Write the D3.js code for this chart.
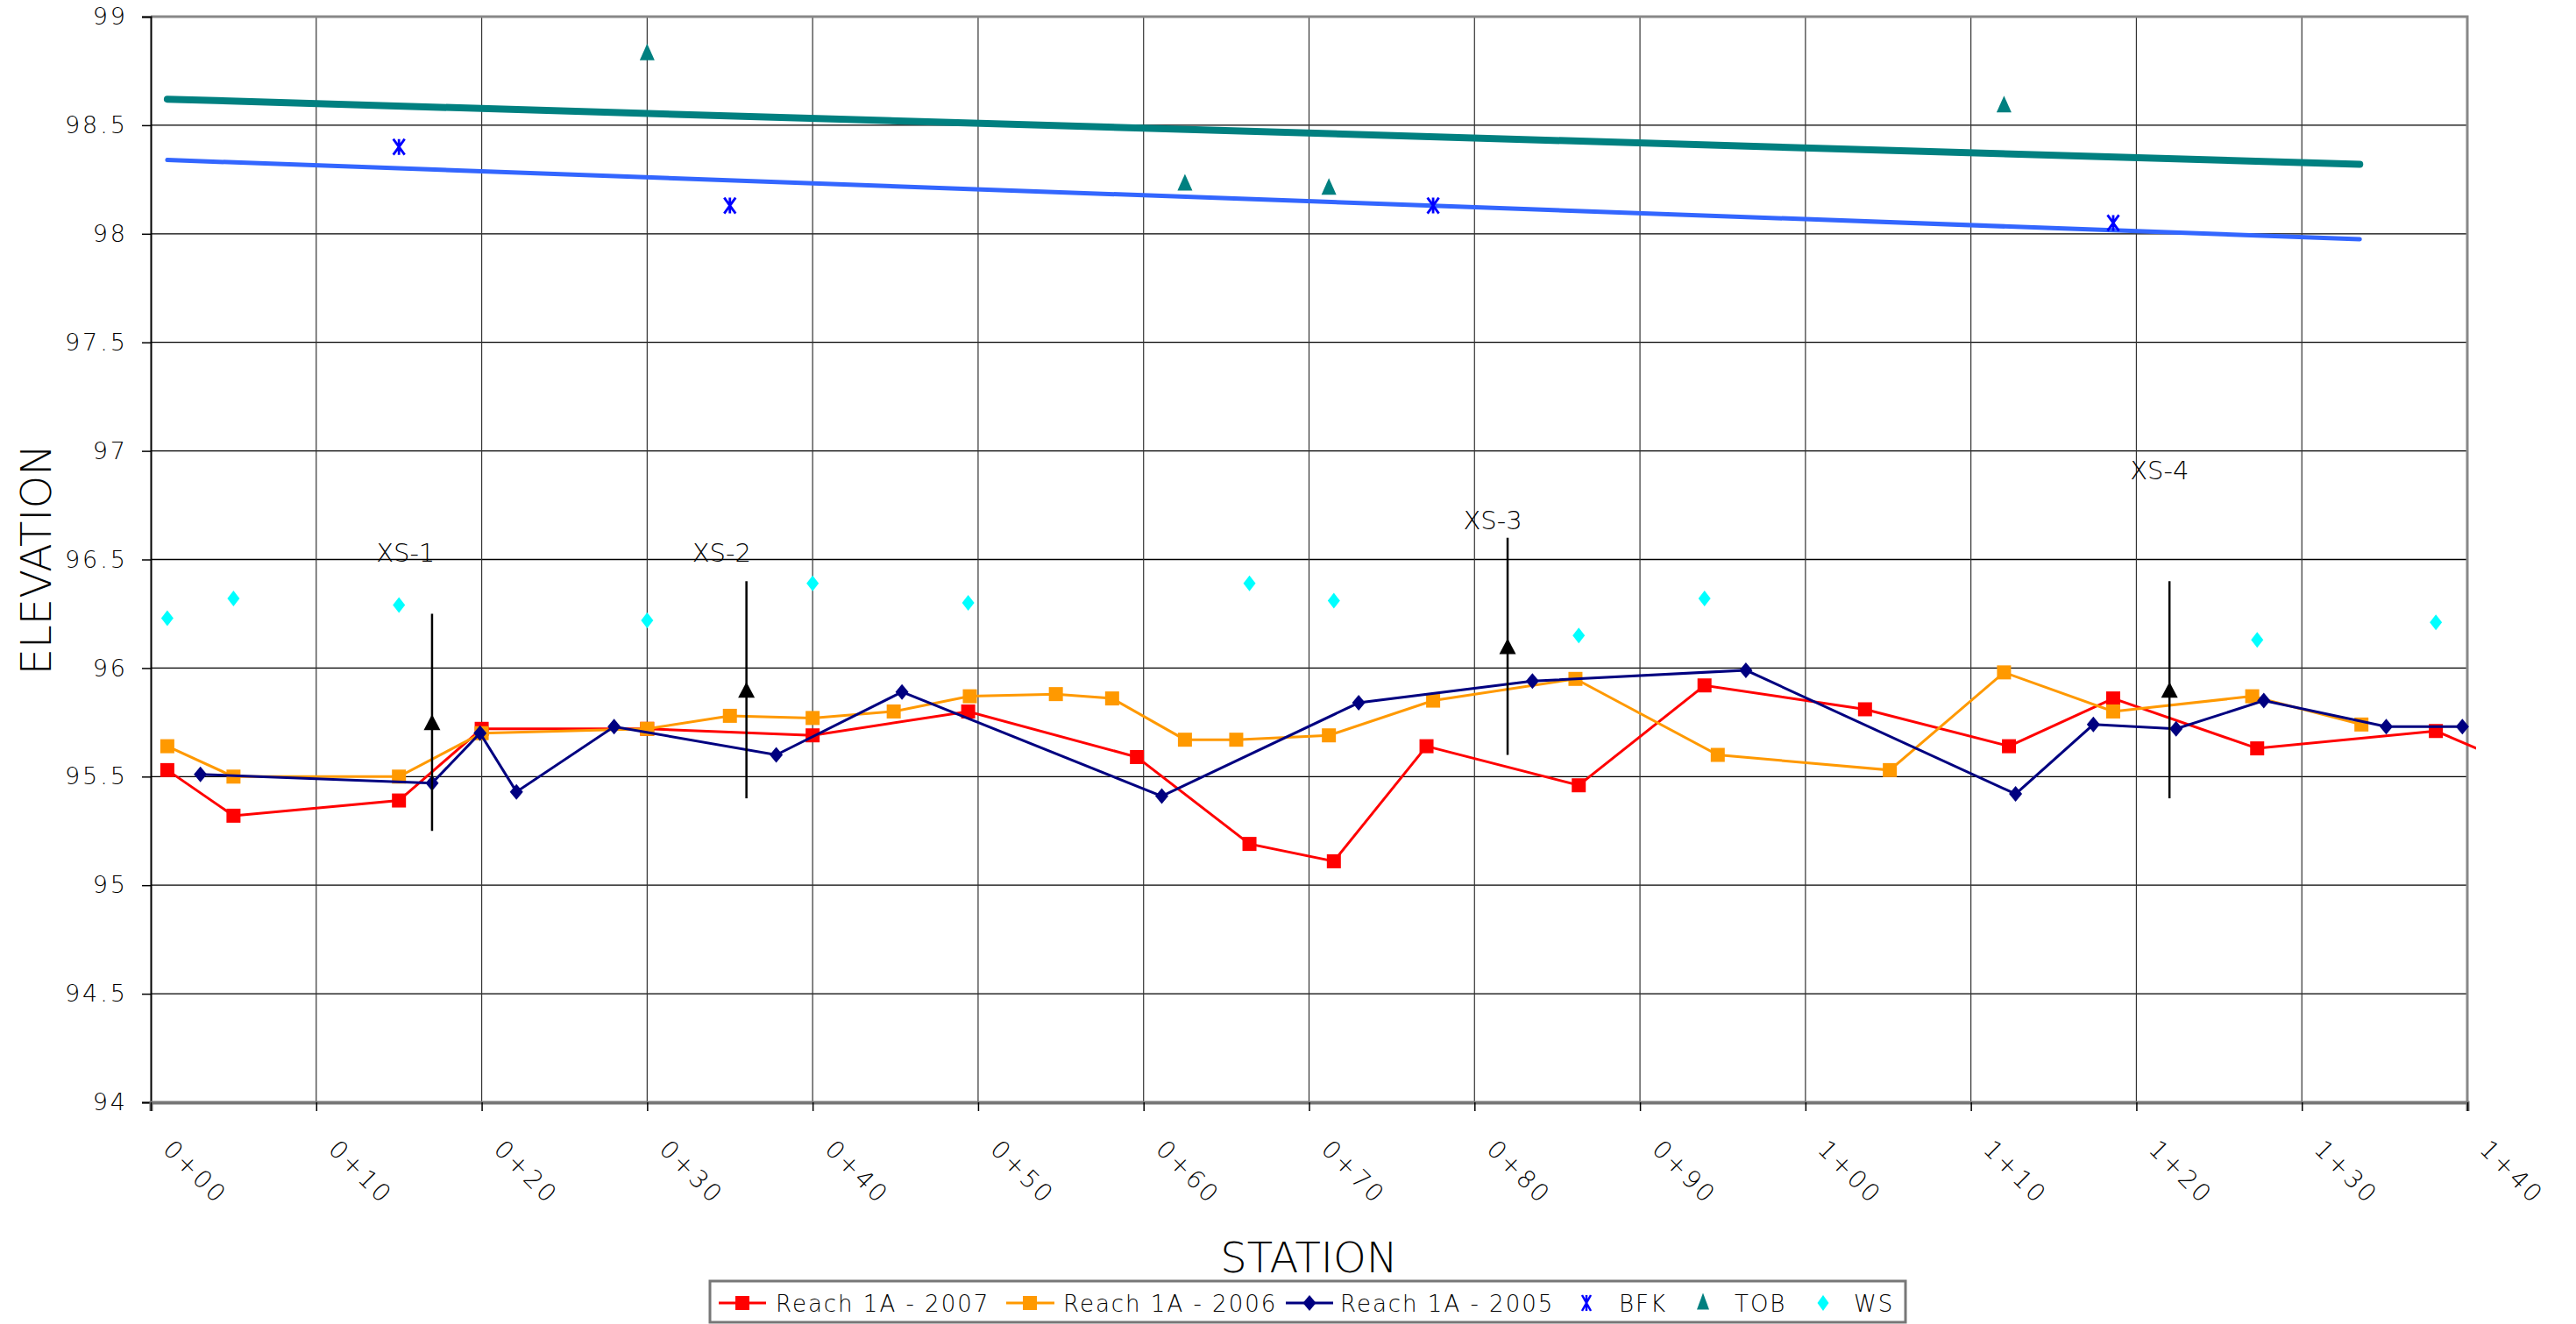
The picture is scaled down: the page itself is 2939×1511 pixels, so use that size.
<!DOCTYPE html>
<meta charset="utf-8">
<head>
<style>
  body { margin: 0; background: white; }
  svg text { font-family: "DejaVu Sans", sans-serif; font-weight: 200; fill: black; }
</style>
<script src="https://cdn.jsdelivr.net/npm/d3@7"></script>
</head>
<body>
<svg id="chart"></svg>
<script>
// station (ft) and elevation per series
let reach2007Sta  = [1, 5, 15, 20, 30, 40, 49.4, 59.6, 66.4, 71.5, 77.1, 86.3, 93.9, 103.6, 112.3, 118.6, 127.3, 138.1, 143]
let reach2007Elev = [95.53, 95.32, 95.39, 95.72, 95.72, 95.69, 95.80, 95.59, 95.19, 95.11, 95.64, 95.46, 95.92, 95.81, 95.64, 95.86, 95.63, 95.71, 95.55]

let reach2006Sta  = [1, 5, 15, 20, 30, 35, 40, 44.9, 49.5, 54.7, 58.1, 62.5, 65.6, 71.2, 77.5, 86.1, 94.7, 105.1, 112, 118.6, 127, 133.6]
let reach2006Elev = [95.64, 95.50, 95.50, 95.70, 95.72, 95.78, 95.77, 95.80, 95.87, 95.88, 95.86, 95.67, 95.67, 95.69, 95.85, 95.95, 95.60, 95.53, 95.98, 95.80, 95.87, 95.74]

let reach2005Sta  = [3, 17, 19.9, 22.1, 28, 37.8, 45.4, 61.1, 73, 83.5, 96.4, 112.7, 117.4, 122.4, 127.7, 135.1, 139.7]
let reach2005Elev = [95.51, 95.47, 95.70, 95.43, 95.73, 95.60, 95.89, 95.41, 95.84, 95.94, 95.99, 95.42, 95.74, 95.72, 95.85, 95.73, 95.73]

let bfkSta  = [15, 35, 77.5, 118.6]
let bfkElev = [98.40, 98.13, 98.13, 98.05]

let tobSta  = [30, 62.5, 71.2, 112]
let tobElev = [98.83, 98.23, 98.21, 98.59]

let wsSta  = [1, 5, 15, 30, 40, 49.4, 66.4, 71.5, 86.3, 93.9, 127.3, 138.1]
let wsElev = [96.23, 96.32, 96.29, 96.22, 96.39, 96.30, 96.39, 96.31, 96.15, 96.32, 96.13, 96.21]

// linear trend lines (end points)
let tobTrendSta  = [1, 133.5]
let tobTrendElev = [98.62, 98.32]
let bfkTrendSta  = [1, 133.5]
let bfkTrendElev = [98.34, 97.975]

// cross section markers
let xsNames  = ["XS-1", "XS-2", "XS-3", "XS-4"]
let xsSta    = [17, 36, 82, 122]
let xsBottom = [95.25, 95.4, 95.6, 95.4]
let xsTop    = [96.25, 96.4, 96.6, 96.4]
let xsLabelSta  = [15.4, 34.5, 81.1, 121.4]
let xsLabelElev = [96.49, 96.49, 96.64, 96.87]

let xTicks = d3.range(0, 141, 10)
let yTicks = d3.range(94, 99.01, 0.5)

let legendNames = ["Reach 1A - 2007", "Reach 1A - 2006", "Reach 1A - 2005", "BFK", "TOB", "WS"]

function zip(a, b) { return a.map((d, i) => ({ x: d, y: b[i] })) }

function getConfig() {
    let width = 2939
    let height = 1511
    let margin = { top: 19, bottom: 253, left: 172, right: 124 }
    let bodyWidth = width - margin.left - margin.right
    let bodyHeight = height - margin.top - margin.bottom
    let container = d3.select("#chart").attr("width", width).attr("height", height)
    return { width, height, margin, bodyWidth, bodyHeight, container }
}

function getScales(config) {
    let xScale = d3.scaleLinear().domain([0, 140]).range([0, config.bodyWidth])
    let yScale = d3.scaleLinear().domain([94, 99]).range([config.bodyHeight, 0])
    return { xScale, yScale }
}

// marker shapes
let squarePath = (s) => `M${-s},${-s}H${s}V${s}H${-s}Z`
let diamondPath = (w, h) => `M0,${-h}L${w},0L0,${h}L${-w},0Z`
let trianglePath = (w, h) => `M0,${-h * 0.6}L${w},${h * 0.4}L${-w},${h * 0.4}Z`
let starPath = (w, h) => `M${-w},${-h}L${w},${h}M${w},${-h}L${-w},${h}M0,${-h}V${h}`

function drawGrid(config, scales) {
    let { container, margin, bodyWidth, bodyHeight } = config
    let { xScale, yScale } = scales
    let g = container.append("g").attr("transform", `translate(${margin.left},${margin.top})`)

    g.selectAll(".hgrid").data(yTicks.slice(1)).enter().append("line")
        .attr("x1", 0).attr("x2", bodyWidth)
        .attr("y1", d => yScale(d)).attr("y2", d => yScale(d))
        .attr("stroke", "#000").attr("stroke-width", 1.3)
    g.selectAll(".vgrid").data(xTicks.slice(1)).enter().append("line")
        .attr("x1", d => xScale(d)).attr("x2", d => xScale(d))
        .attr("y1", 0).attr("y2", bodyHeight)
        .attr("stroke", "#333").attr("stroke-width", 1.2)

    // plot border top/right, grey like excel
    g.append("path")
        .attr("d", `M0,0H${bodyWidth}V${bodyHeight}`)
        .attr("fill", "none").attr("stroke", "#888").attr("stroke-width", 3)
}

function drawAxes(config, scales) {
    let { container, margin, bodyHeight } = config
    let { xScale, yScale } = scales

    let axisY = d3.axisLeft(yScale).tickValues(yTicks).tickSize(10).tickPadding(16)
        .tickFormat(d => d % 1 === 0 ? d : d.toFixed(1))
    let gy = container.append("g")
        .attr("transform", `translate(${margin.left},${margin.top})`)
        .call(axisY)
    gy.select(".domain").attr("stroke", "#000").attr("stroke-width", 2)
    gy.selectAll(".tick line").attr("stroke", "#000").attr("stroke-width", 1.5)
    gy.selectAll("text").attr("font-size", 27).attr("letter-spacing", 3)
        .attr("font-family", "DejaVu Sans").attr("font-weight", 200).attr("fill", "#000")

    let axisX = d3.axisBottom(xScale).tickValues(xTicks).tickSize(10)
        .tickFormat(d => Math.floor(d / 100) + "+" + String(d % 100).padStart(2, "0"))
    let gx = container.append("g")
        .attr("transform", `translate(${margin.left},${margin.top + bodyHeight})`)
        .call(axisX)
    gx.select(".domain").attr("stroke", "#777").attr("stroke-width", 4)
    gx.selectAll(".tick line").attr("stroke", "#000").attr("stroke-width", 1.5)
    gx.selectAll("text")
        .attr("font-size", 28).attr("letter-spacing", 3)
        .attr("font-family", "DejaVu Sans").attr("font-weight", 200).attr("fill", "#000")
        .attr("text-anchor", "start")
        .attr("dy", null).attr("y", null)
        .attr("transform", "translate(12,55) rotate(45)")

    // axis titles
    container.append("text")
        .attr("transform", `translate(58,${margin.top + bodyHeight / 2}) rotate(-90)`)
        .attr("text-anchor", "middle").attr("font-size", 48)
        .text("ELEVATION")
    container.append("text")
        .attr("x", margin.left + config.bodyWidth / 2).attr("y", 1452)
        .attr("text-anchor", "middle").attr("font-size", 48)
        .text("STATION")
}

function drawSeries(config, scales) {
    let { container, margin, bodyWidth, bodyHeight } = config
    let { xScale, yScale } = scales

    container.append("clipPath").attr("id", "plotclip").append("rect")
        .attr("x", 0).attr("y", -10).attr("width", bodyWidth + 10).attr("height", bodyHeight + 20)

    let body = container.append("g")
        .attr("transform", `translate(${margin.left},${margin.top})`)
        .attr("clip-path", "url(#plotclip)")

    let line = d3.line().x(d => xScale(d.x)).y(d => yScale(d.y))

    // trend lines
    body.append("path").attr("d", line(zip(tobTrendSta, tobTrendElev)))
        .attr("fill", "none").attr("stroke", "#008080").attr("stroke-width", 8).attr("stroke-linecap", "round")
    body.append("path").attr("d", line(zip(bfkTrendSta, bfkTrendElev)))
        .attr("fill", "none").attr("stroke", "#3366FF").attr("stroke-width", 5).attr("stroke-linecap", "round")

    let series = [
        { data: zip(reach2007Sta, reach2007Elev), color: "#FF0000", shape: squarePath(8) },
        { data: zip(reach2006Sta, reach2006Elev), color: "#FF9900", shape: squarePath(8) },
        { data: zip(reach2005Sta, reach2005Elev), color: "#000080", shape: diamondPath(7.5, 9) }
    ]
    series.forEach(s => {
        body.append("path").attr("d", line(s.data))
            .attr("fill", "none").attr("stroke", s.color).attr("stroke-width", 3)
        body.selectAll(null).data(s.data).enter().append("path")
            .attr("d", s.shape)
            .attr("transform", d => `translate(${xScale(d.x)},${yScale(d.y)})`)
            .attr("fill", s.color)
    })

    body.selectAll(null).data(zip(bfkSta, bfkElev)).enter().append("path")
        .attr("d", starPath(6.5, 9))
        .attr("transform", d => `translate(${xScale(d.x)},${yScale(d.y)})`)
        .attr("fill", "none").attr("stroke", "#0000FF").attr("stroke-width", 2.8)

    body.selectAll(null).data(zip(tobSta, tobElev)).enter().append("path")
        .attr("d", trianglePath(8.5, 19))
        .attr("transform", d => `translate(${xScale(d.x)},${yScale(d.y)})`)
        .attr("fill", "#008080")

    body.selectAll(null).data(zip(wsSta, wsElev)).enter().append("path")
        .attr("d", diamondPath(7, 9))
        .attr("transform", d => `translate(${xScale(d.x)},${yScale(d.y)})`)
        .attr("fill", "#00FFFF")

    // cross section callouts
    let xs = xsNames.map((n, i) => ({ name: n, x: xsSta[i], lo: xsBottom[i], hi: xsTop[i],
        lx: xsLabelSta[i], ly: xsLabelElev[i] }))
    let g = container.append("g").attr("transform", `translate(${margin.left},${margin.top})`)
    g.selectAll(null).data(xs).enter().append("line")
        .attr("x1", d => xScale(d.x)).attr("x2", d => xScale(d.x))
        .attr("y1", d => yScale(d.lo)).attr("y2", d => yScale(d.hi))
        .attr("stroke", "#000").attr("stroke-width", 2.5)
    g.selectAll(null).data(xs).enter().append("path")
        .attr("d", "M0,-9L9.5,9L-9.5,9Z")
        .attr("transform", d => `translate(${xScale(d.x)},${yScale((d.lo + d.hi) / 2)})`)
        .attr("fill", "#000")
    g.selectAll(null).data(xs).enter().append("text")
        .attr("x", d => xScale(d.lx)).attr("y", d => yScale(d.ly))
        .attr("text-anchor", "middle").attr("font-size", 29)
        .text(d => d.name)
}

function drawLegend(config) {
    let { container } = config
    let leg = container.append("g")
    leg.append("rect")
        .attr("x", 810).attr("y", 1462).attr("width", 1364).attr("height", 47)
        .attr("fill", "white").attr("stroke", "#777").attr("stroke-width", 3)

    let cy = 1487
    // x positions of each legend entry (marker, text)
    let items = [
        { line: [820, 874], mx: 847, tx: 885, color: "#FF0000", shape: squarePath(8), fill: true },
        { line: [1148, 1203], mx: 1175, tx: 1213, color: "#FF9900", shape: squarePath(8), fill: true },
        { line: [1467, 1521], mx: 1494, tx: 1529, color: "#000080", shape: diamondPath(7.5, 9), fill: true },
        { line: null, mx: 1810, tx: 1847, color: "#0000FF", shape: starPath(5, 9), fill: false },
        { line: null, mx: 1943, tx: 1979, color: "#008080", shape: trianglePath(7, 19), fill: true },
        { line: null, mx: 2080, tx: 2115, color: "#00FFFF", shape: diamondPath(6.5, 9), fill: true }
    ]
    items.forEach((it, i) => {
        if (it.line) {
            leg.append("line").attr("x1", it.line[0]).attr("x2", it.line[1])
                .attr("y1", cy).attr("y2", cy).attr("stroke", it.color).attr("stroke-width", 3)
        }
        leg.append("path").attr("d", it.shape)
            .attr("transform", `translate(${it.mx},${cy})`)
            .attr("fill", it.fill ? it.color : "none")
            .attr("stroke", it.fill ? "none" : it.color).attr("stroke-width", 2.5)
        leg.append("text").attr("x", it.tx).attr("y", cy + 10)
            .attr("font-size", 26).attr("letter-spacing", 2)
            .text(legendNames[i])
    })
}

function drawChart() {
    let config = getConfig()
    let scales = getScales(config)
    drawGrid(config, scales)
    drawSeries(config, scales)
    drawAxes(config, scales)
    drawLegend(config)
}

drawChart()
</script>
</body>
